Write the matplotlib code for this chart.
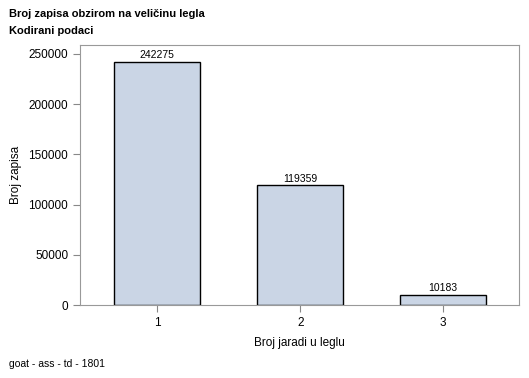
import matplotlib
matplotlib.use("Agg")
from matplotlib import pyplot as plt

plt.rcParams['font.family'] = ['Liberation Sans', 'DejaVu Sans']

categories = ['1', '2', '3']
counts = [242275, 119359, 10183]
yticks = [0, 50000, 100000, 150000, 200000, 250000]

fig = plt.figure(figsize=(5.29, 3.78), dpi=100)
ax = fig.add_axes([80 / 529, 1 - 305 / 378, 439 / 529, 260 / 378])

pos = range(1, len(categories) + 1)
ax.bar(pos, counts, width=0.6, color='#CAD5E5', edgecolor='black', linewidth=1)
for x, v in zip(pos, counts):
    ax.text(x, v + 1500, str(v), ha='center', va='bottom', fontsize=7.5)

ax.set_xlim(0.46, 3.53)
ax.set_ylim(0, 258964)
ax.set_xticks(list(pos))
ax.set_xticklabels(categories)
ax.set_yticks(yticks)
ax.set_yticklabels([str(t) for t in yticks])
ax.tick_params(labelsize=8.5, color='#888888', length=5)
for s in ax.spines.values():
    s.set_color('#999999')

ax.set_xlabel('Broj jaradi u leglu', fontsize=8.5, labelpad=6)
ax.set_ylabel('Broj zapisa', fontsize=8.5, labelpad=5)

fig.text(9 / 529, 1 - 14 / 378, 'Broj zapisa obzirom na veličinu legla', fontsize=8, fontweight='bold', va='center')
fig.text(9 / 529, 1 - 31 / 378, 'Kodirani podaci', fontsize=8, fontweight='bold', va='center')
fig.text(9 / 529, 1 - 364 / 378, 'goat - ass - td - 1801', fontsize=7.5, va='center')

fig.savefig('out.png', dpi=100)
